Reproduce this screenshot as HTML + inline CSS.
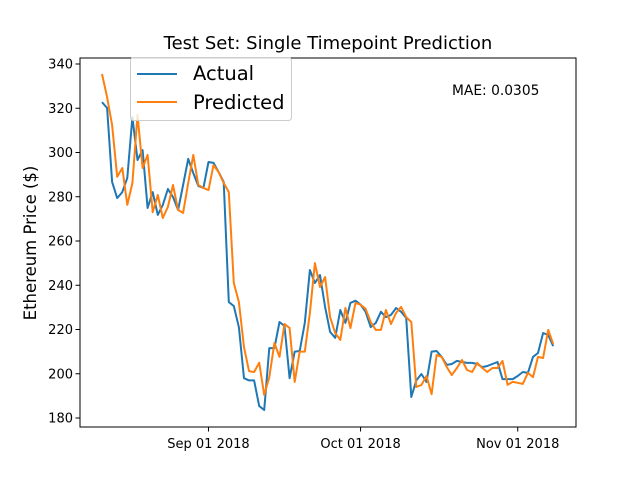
<!DOCTYPE html>
<html><head><meta charset="utf-8"><style>
body{margin:0;background:#fff;}
svg text{font-family:"DejaVu Sans","Liberation Sans",sans-serif;}
</style></head><body>
<svg id="chart" width="640" height="480" xmlns="http://www.w3.org/2000/svg">
<rect width="640" height="480" fill="#fff"/>
<g id="plot"></g>
</svg>
<script>
const actual=[322.8,320.1,286.7,279.4,282.1,288.5,316.0,296.6,301.1,274.9,282.1,271.8,276.3,283.5,279.9,274.0,285.3,297.1,290.7,284.9,284.0,295.7,295.3,291.2,286.7,
232.4,230.6,221,198,197,197,185.4,183.6,211.6,211.6,223.4,221.6,198,210,210.3,223,246.9,241,244.6,230.2,218.9,216.2,228.8,223,232,233,231.2,228,221.1,223,
228,225.6,226.6,229.7,228,225.2,189.5,197,199.9,196.3,210,210.3,207.6,204,204.4,205.8,205.3,204.9,204.9,204.4,203,203.5,204.4,205.3,197.6,197.6,197.6,199,200.8,200.4,207.6,209.4,218.4,217.5,212.5];
const predicted=[335.5,325,312.4,289,293,276.3,286.2,317,293,298.9,273,280.8,270.4,275.4,285.3,274,272.7,286.2,298.9,285.3,284,283,294.3,291.2,286.2,282.1,
241,232.4,212,201.2,200.8,205,190.4,198.5,213.9,207.6,222.5,220.7,196.3,210,210,227.5,250,239.2,243.7,225.6,218.4,215.3,229.7,220.7,232,231.2,229.3,223.4,
219.8,219.8,228.8,222.5,227.5,230.2,225.6,223.4,194,194.9,199,190.8,208.5,207.6,203,199.4,202.6,206.2,201.7,200.8,204.9,202.6,200.8,202.6,202.6,205.8,195,196.3,195.9,195.4,200.4,198.5,207.6,207.1,219.8,213.4];
const yTicks=[180,200,220,240,260,280,300,320,340];
const xTickIdx=[21,51,82];
const xTickLabels=["Sep 01 2018","Oct 01 2018","Nov 01 2018"];

const L=80,R=576,T=58,B=427;
const xs=i=>102+i*5.07;
const ys=v=>64+(340-v)*2.2125;
const NS="http://www.w3.org/2000/svg";
const g=document.getElementById('plot');
function mk(tag,attrs,parent){const e=document.createElementNS(NS,tag);for(const k in attrs)e.setAttribute(k,attrs[k]);(parent||g).appendChild(e);return e;}

function series(arr,color,name){
  const d=arr.map((v,i)=>(i?'L':'M')+xs(i).toFixed(1)+','+ys(v).toFixed(1)).join('');
  const p=mk('path',{d:d,fill:'none',stroke:color,'stroke-width':2,'stroke-linejoin':'round'});
  
  
}
series(actual,'#1f77b4','actual-line');
series(predicted,'#ff7f0e','predicted-line');

const fr=mk('rect',{x:L,y:T,width:R-L,height:B-T,fill:'none',stroke:'#000','stroke-width':1});



yTicks.forEach(v=>{
  const y=ys(v);
  mk('line',{x1:L-4.5,x2:L,y1:y,y2:y,stroke:'#000','stroke-width':1});
  const t=mk('text',{x:L-7,y:y+4.5,'text-anchor':'end','font-size':13});
  t.textContent=v;
  
  
});
xTickIdx.forEach((idx,k)=>{
  const x=xs(idx);
  mk('line',{x1:x,x2:x,y1:B,y2:B+4.5,stroke:'#000','stroke-width':1});
  const t=mk('text',{x:x,y:B+21,'text-anchor':'middle','font-size':13});
  t.textContent=xTickLabels[k];
  
  
});
</script>
<svg style="position:absolute;left:0;top:0" width="640" height="480" xmlns="http://www.w3.org/2000/svg">
<text x="328" y="49" text-anchor="middle" font-size="18" font-family="DejaVu Sans, Liberation Sans, sans-serif">Test Set: Single Timepoint Prediction</text>
<text transform="translate(36,243) rotate(-90)" text-anchor="middle" font-size="16.5" font-family="DejaVu Sans, Liberation Sans, sans-serif">Ethereum Price ($)</text>
<text x="452" y="95" font-size="13.8" font-family="DejaVu Sans, Liberation Sans, sans-serif">MAE: 0.0305</text>
<g>
<rect x="130.5" y="57.5" width="161" height="63" rx="3" fill="#fff" fill-opacity="0.8" stroke="#ccc"/>
<g>
<line x1="137" x2="177" y1="74" y2="74" stroke="#1f77b4" stroke-width="2"/>
<text x="193" y="80" font-size="19.5" font-family="DejaVu Sans, Liberation Sans, sans-serif">Actual</text>
</g>
<g>
<line x1="137" x2="177" y1="102" y2="102" stroke="#ff7f0e" stroke-width="2"/>
<text x="193" y="109" font-size="19.5" font-family="DejaVu Sans, Liberation Sans, sans-serif">Predicted</text>
</g>
</g>
</svg>
</body></html>
